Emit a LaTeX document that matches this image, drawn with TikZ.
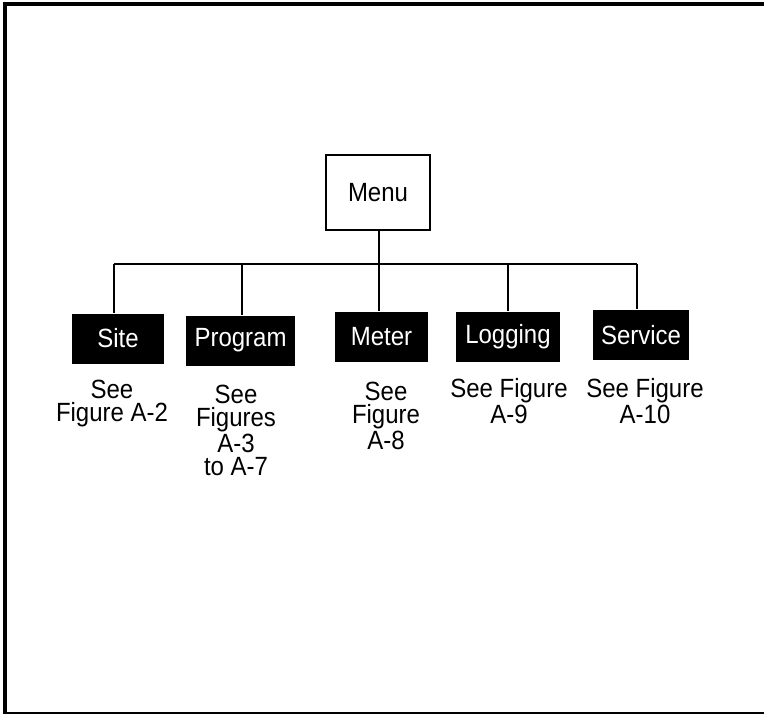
\documentclass[tikz,border=0pt]{standalone}
\usepackage{fontspec}
\setmainfont{Liberation Sans}[FakeStretch=0.91]
\usepackage{tikz}
\usetikzlibrary{calc}

\begin{document}
\begin{tikzpicture}[line width=0.6pt,
    font=\fontsize{15pt}{13.1pt}\selectfont,
    menubox/.style={draw, minimum width=2.08cm, minimum height=1.5cm, inner sep=0pt},
    itembox/.style={fill=black, text=white, minimum height=1cm, inner sep=0pt},
    seenote/.style={anchor=north, align=center, inner sep=0pt}]

  \useasboundingbox (0,0) rectangle (15.28,14.28);

  % ---------- page frame ----------
  \fill (0.05,14.16) rectangle (15.28,14.24);
  \fill (0.05,0) rectangle (0.13,14.24);
  \fill (0.05,0) rectangle (15.28,0.04);

  % ---------- top of the tree ----------
  \node[menubox] (menu) at (7.56,10.43) {Menu};

  % ---------- the five sub-menus ----------
  \node[itembox, minimum width=1.84cm] (site)    at (2.36,7.51)  {Site};
  \node[itembox, minimum width=2.18cm] (program) at (4.81,7.47)  {Program};
  \node[itembox, minimum width=1.86cm] (meter)   at (7.63,7.54)  {Meter};
  \node[itembox, minimum width=2.08cm] (logging) at (10.16,7.54) {Logging};
  \node[itembox, minimum width=1.92cm] (service) at (12.82,7.58) {Service};

  % ---------- tree wiring ----------
  \coordinate (jsite)    at (2.28,9.0);
  \coordinate (jprogram) at (4.84,9.0);
  \coordinate (jmeter)   at (7.58,9.0);
  \coordinate (jlogging) at (10.16,9.0);
  \coordinate (jservice) at (12.74,9.0);

  \draw (menu.south -| jmeter) -- (jmeter);
  \draw (jsite) -- (jservice);
  \foreach \n in {site,program,meter,logging,service}{
    \draw (j\n) -- (j\n |- \n.north);
  }

  % ---------- references ----------
  \node[seenote] (sitenote)    at (2.24,6.68)  {See\\Figure A-2};
  \node[seenote] (programnote) at (4.72,6.58)  {See\\Figures\\A-3\\to A-7};
  \node[seenote] (meternote)   at (7.72,6.64)  {See\\Figure\\A-8};
  \node[seenote] (loggingnote) at (10.18,6.72) {See Figure\\A-9};
  \node[seenote] (servicenote) at (12.9,6.72)  {See Figure\\A-10};

\end{tikzpicture}
\end{document}
